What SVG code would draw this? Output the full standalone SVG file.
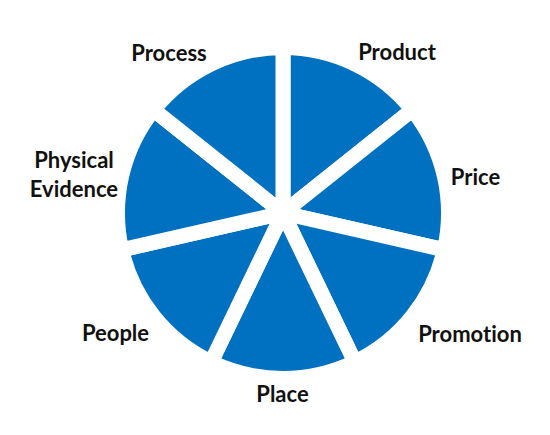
<svg xmlns="http://www.w3.org/2000/svg" width="550" height="435" viewBox="0 0 550 435">
<style>
.slice{fill:#0070C0;stroke:#FFFFFF;stroke-width:15;stroke-linejoin:round}
.lbl{font-family:Lato,"Open Sans","Liberation Sans",sans-serif;font-weight:bold;font-size:22px;font-variant-ligatures:none;fill:#111111;text-anchor:middle}
</style>
<rect width="550" height="435" fill="#FFFFFF"/>
<g id="product"><path class="slice" d="M283 213 L283 47.5 A165.5 165.5 0 0 1 412.39 109.81 Z"/><text class="lbl" x="397" y="60">Product</text></g>
<g id="price"><path class="slice" d="M283 213 L412.39 109.81 A165.5 165.5 0 0 1 444.35 249.83 Z"/><text class="lbl" x="475.5" y="185">Price</text></g>
<g id="promotion"><path class="slice" d="M283 213 L444.35 249.83 A165.5 165.5 0 0 1 354.81 362.11 Z"/><text class="lbl" x="470" y="342">Promotion</text></g>
<g id="place"><path class="slice" d="M283 213 L354.81 362.11 A165.5 165.5 0 0 1 211.19 362.11 Z"/><text class="lbl" x="282.5" y="402">Place</text></g>
<g id="people"><path class="slice" d="M283 213 L211.19 362.11 A165.5 165.5 0 0 1 121.65 249.83 Z"/><text class="lbl" x="115.5" y="341">People</text></g>
<g id="physical-evidence"><path class="slice" d="M283 213 L121.65 249.83 A165.5 165.5 0 0 1 153.61 109.81 Z"/><text class="lbl" x="74" y="168">Physical</text><text class="lbl" x="74" y="197">Evidence</text></g>
<g id="process"><path class="slice" d="M283 213 L153.61 109.81 A165.5 165.5 0 0 1 283 47.5 Z"/><text class="lbl" x="169" y="61">Process</text></g>
<g id="connectors"></g>
</svg>
